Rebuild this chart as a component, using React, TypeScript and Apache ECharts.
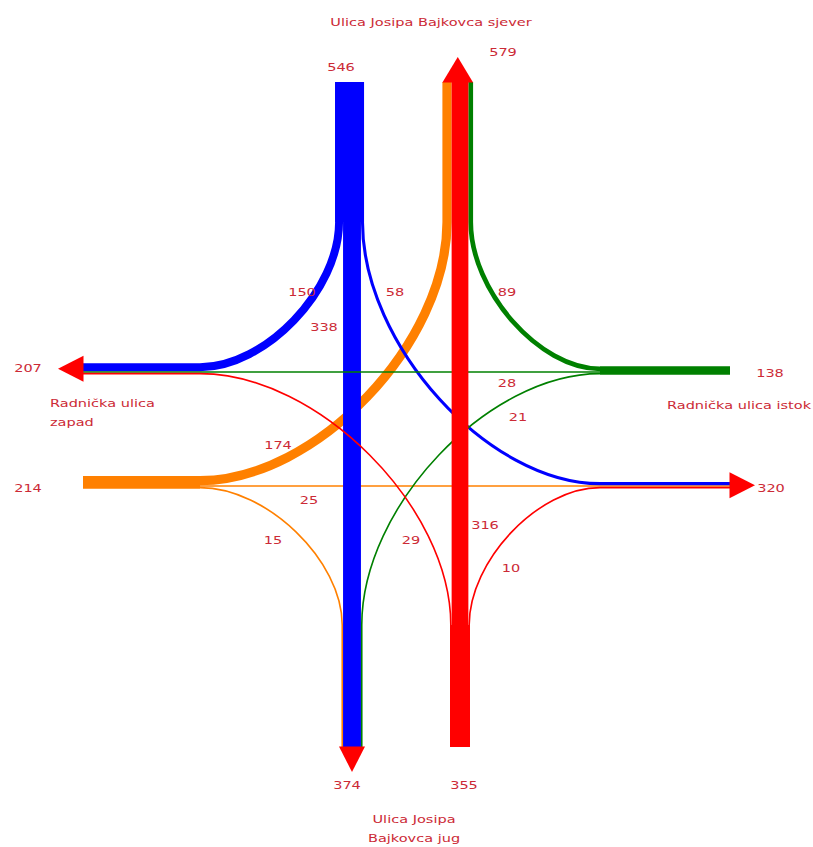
import React, { useEffect, useRef } from 'react';
import * as echarts from 'echarts';

// ---------------- data ----------------
const legKeys = ['N', 'W', 'E', 'S'];
const legNames = ['Ulica Josipa Bajkovca sjever', 'Radnička ulica\nzapad', 'Radnička ulica istok', 'Ulica Josipa\nBajkovca jug'];
// turning volumes per approach, in order of the lanes
const northApproach = [150, 338, 58]; // to W, to S (straight), to E
const westApproach = [174, 25, 15]; // to N, to E (straight), to S
const eastApproach = [89, 28, 21]; // to N, to W (straight), to S
const southApproach = [29, 316, 10]; // to W, to N (straight), to E
const approachTotals = [546, 214, 138, 355]; // N, W, E, S
const exitTotals = [579, 207, 320, 374]; // N, W, E, S
const approachColors = ['#0000ff', '#ff8000', '#008000', '#ff0000']; // N, W, E, S

// ---------------- layout (not data) ----------------
const W = 813;
const H = 847;
const PX_PER_VEH = 0.053;
const MIN_W = 1.6;
const K = 0.47;
const TEXT = '#cc2a36';
const approachOrder: Record<string, string[]> = { N: ['W', 'S', 'E'], W: ['N', 'E', 'S'], E: ['N', 'W', 'S'], S: ['W', 'N', 'E'] };
const exitOrder: Record<string, string[]> = { N: ['W', 'S', 'E'], W: ['N', 'E', 'S'], E: ['N', 'W', 'S'], S: ['W', 'N', 'E'] };
const LEGS: Record<string, { vertical: boolean; outer: number; split: number; inward: number; approachAxis: number; exitAxis: number }> = {
  N: { vertical: true, outer: 82, split: 222, inward: 1, approachAxis: 352, exitAxis: 460 },
  S: { vertical: true, outer: 747, split: 625, inward: -1, approachAxis: 460, exitAxis: 352 },
  W: { vertical: false, outer: 83, split: 200, inward: 1, approachAxis: 486, exitAxis: 372 },
  E: { vertical: false, outer: 730, split: 600, inward: -1, approachAxis: 372, exitAxis: 486 },
};

const approachArrays: Record<string, number[]> = { N: northApproach, W: westApproach, E: eastApproach, S: southApproach };
const vol = (from: string, to: string) => approachArrays[from][approachOrder[from].indexOf(to)];
const bandWidth = (v: number) => Math.max(MIN_W, v * PX_PER_VEH);

function stack(widths: number[]) {
  const start = -(widths[0] + widths[1] / 2);
  let acc = start;
  const centers = widths.map((w) => {
    const c = acc + w / 2;
    acc += w;
    return c;
  });
  return { centers, start, end: acc };
}
const pt = (leg: string, lane: number, along: number) => (LEGS[leg].vertical ? [lane, along] : [along, lane]);

function movementGeometry(from: string, to: string) {
  const a = LEGS[from];
  const b = LEGS[to];
  const aOrder = approachOrder[from];
  const aStack = stack(aOrder.map((t) => bandWidth(vol(from, t))));
  const pa = a.approachAxis + aStack.centers[aOrder.indexOf(to)];
  const bOrder = exitOrder[to];
  const bStack = stack(bOrder.map((f) => bandWidth(vol(f, to))));
  const pb = b.exitAxis + bStack.centers[bOrder.indexOf(from)];
  const A0 = pt(from, pa, a.outer);
  const A1 = pt(from, pa, a.split);
  const B1 = pt(to, pb, b.split);
  const B0 = pt(to, pb, b.outer);
  const LA = Math.abs(a.vertical ? B1[1] - A1[1] : B1[0] - A1[0]);
  const LB = Math.abs(b.vertical ? A1[1] - B1[1] : A1[0] - B1[0]);
  const C1 = a.vertical ? [A1[0], A1[1] + a.inward * K * LA] : [A1[0] + a.inward * K * LA, A1[1]];
  const C2 = b.vertical ? [B1[0], B1[1] + b.inward * K * LB] : [B1[0] + b.inward * K * LB, B1[1]];
  return [A0, A1, C1, C2, B1, B0];
}

function movementSeries(fromIdx: number) {
  const from = legKeys[fromIdx];
  const order = approachOrder[from];
  return {
    type: 'custom',
    name: legNames[fromIdx],
    coordinateSystem: 'cartesian2d',
    silent: true,
    data: order.map((to) => [0, 0, vol(from, to)]),
    renderItem: (params: any, api: any) => {
      const to = order[params.dataIndex];
      const g = movementGeometry(from, to).map((p) => api.coord(p));
      const f = (p: number[]) => `${p[0].toFixed(2)} ${p[1].toFixed(2)}`;
      const d = `M${f(g[0])} L${f(g[1])} C${f(g[2])} ${f(g[3])} ${f(g[4])} L${f(g[5])}`;
      const unit = api.size([1, 1]);
      return {
        type: 'path',
        shape: { pathData: d },
        style: { fill: 'none', stroke: approachColors[fromIdx], lineWidth: bandWidth(api.value(2)) * unit[0] },
      };
    },
  };
}

const bundleSeries = {
  type: 'custom',
  name: 'approaches',
  coordinateSystem: 'cartesian2d',
  silent: true,
  data: legKeys.map((k, i) => [0, 0, approachTotals[i]]),
  renderItem: (params: any, api: any) => {
    const leg = legKeys[params.dataIndex];
    const L = LEGS[leg];
    const s = stack(approachOrder[leg].map((t) => bandWidth(vol(leg, t))));
    const p1 = api.coord(pt(leg, L.approachAxis + s.start, L.outer));
    const p2 = api.coord(pt(leg, L.approachAxis + s.end, L.split));
    return {
      type: 'rect',
      shape: { x: Math.min(p1[0], p2[0]), y: Math.min(p1[1], p2[1]), width: Math.abs(p2[0] - p1[0]), height: Math.abs(p2[1] - p1[1]) },
      style: { fill: approachColors[params.dataIndex] },
    };
  },
};

const arrowSeries = {
  type: 'custom',
  name: 'exits',
  coordinateSystem: 'cartesian2d',
  silent: true,
  data: legKeys.map((k, i) => [0, 0, exitTotals[i]]),
  renderItem: (params: any, api: any) => {
    const leg = legKeys[params.dataIndex];
    const L = LEGS[leg];
    const s = stack(exitOrder[leg].map((f) => bandWidth(vol(f, leg))));
    const c = L.exitAxis + (s.start + s.end) / 2;
    const half = Math.max(13, (s.end - s.start) / 2);
    const len = 25;
    const out = -L.inward;
    const pts = [pt(leg, c - half, L.outer - out * 0.5), pt(leg, c + half, L.outer - out * 0.5), pt(leg, c, L.outer + out * len)].map((p) => api.coord(p));
    return { type: 'polygon', shape: { points: pts }, style: { fill: '#ff0000' } };
  },
};

// label placement (layout)
const valueLabels: { text: string; x: number; y: number }[] = [
  { text: String(approachTotals[0]), x: 341, y: 67 },
  { text: String(exitTotals[0]), x: 503, y: 52 },
  { text: String(northApproach[0]), x: 302, y: 292 },
  { text: String(northApproach[2]), x: 395, y: 292 },
  { text: String(northApproach[1]), x: 324, y: 327 },
  { text: String(eastApproach[0]), x: 507, y: 292 },
  { text: String(exitTotals[1]), x: 28, y: 368 },
  { text: String(approachTotals[1]), x: 28, y: 488 },
  { text: String(westApproach[0]), x: 278, y: 445 },
  { text: String(westApproach[1]), x: 309, y: 500 },
  { text: String(westApproach[2]), x: 273, y: 540 },
  { text: String(approachTotals[2]), x: 770, y: 373 },
  { text: String(eastApproach[1]), x: 507, y: 383 },
  { text: String(eastApproach[2]), x: 518, y: 417 },
  { text: String(exitTotals[2]), x: 771, y: 488 },
  { text: String(southApproach[0]), x: 411, y: 540 },
  { text: String(southApproach[1]), x: 485, y: 525 },
  { text: String(southApproach[2]), x: 511, y: 568 },
  { text: String(exitTotals[3]), x: 347, y: 785 },
  { text: String(approachTotals[3]), x: 464, y: 785 },
];
const nameLabels: { idx: number; x: number; y: number; align: string }[] = [
  { idx: 0, x: 431, y: 22, align: 'center' },
  { idx: 1, x: 50, y: 413, align: 'left' },
  { idx: 2, x: 667, y: 405, align: 'left' },
  { idx: 3, x: 414, y: 829, align: 'center' },
];

function textEl(text: string, x: number, y: number, align: string) {
  return {
    type: 'text',
    x,
    y,
    scaleX: 1.32,
    silent: true,
    z: 100,
    style: {
      text,
      fill: TEXT,
      fontSize: 11,
      fontFamily: 'DejaVu Sans',
      lineHeight: 19,
      textAlign: align,
      textVerticalAlign: 'middle',
      align,
      verticalAlign: 'middle',
    },
  };
}

export default function App() {
  const ref = useRef<HTMLDivElement>(null);
  useEffect(() => {
    if (!ref.current) return;
    const chart = echarts.init(ref.current, null, { renderer: 'svg' });
    chart.setOption({
      animation: false,
      backgroundColor: '#ffffff',
      grid: { left: 0, right: 0, top: 0, bottom: 0 },
      xAxis: { type: 'value', min: 0, max: W, show: false },
      yAxis: { type: 'value', min: 0, max: H, inverse: true, show: false },
      series: [movementSeries(1), movementSeries(0), movementSeries(2), movementSeries(3), bundleSeries, arrowSeries],
      graphic: [
        ...valueLabels.map((l) => textEl(l.text, l.x, l.y, 'center')),
        ...nameLabels.map((l) => textEl(legNames[l.idx], l.x, l.y, l.align)),
      ],
    });
    return () => chart.dispose();
  }, []);
  return <div ref={ref} style={{ position: 'absolute', left: 0, top: 0, width: W, height: H }} />;
}
